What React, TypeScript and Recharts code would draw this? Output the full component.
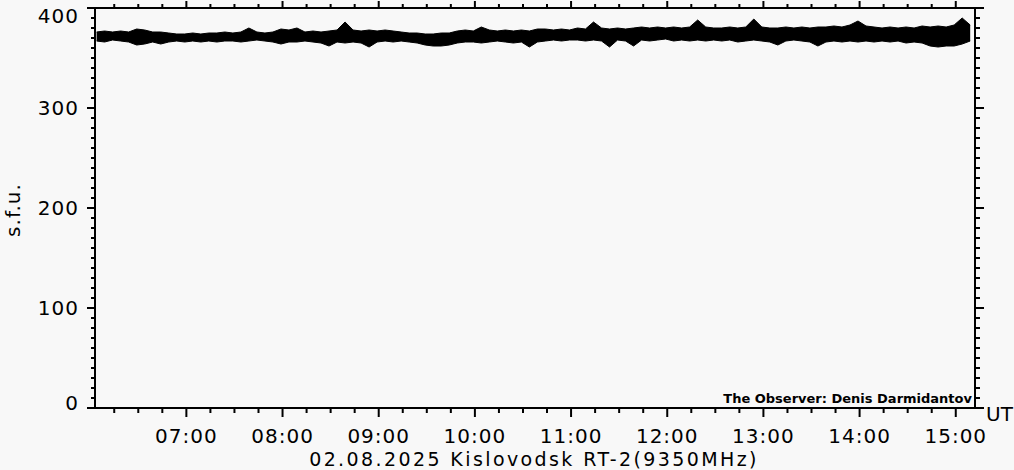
import { Area, ComposedChart, XAxis, YAxis } from "recharts";

// minutes after 00:00 UT of the first sample, samples every 5 min
const startMinute = 364;
const stepMinutes = 5;

// upper / lower edge of the flux band (s.f.u.)
const fluxHigh = [
  376, 377, 376, 377, 376, 379, 378, 376, 376, 375,
  374, 374, 375, 374, 375, 375, 376, 375, 376, 380,
  376, 375, 376, 379, 378, 380, 376, 377, 376, 377,
  378, 386, 378, 377, 378, 377, 378, 377, 376, 375,
  375, 374, 374, 375, 375, 377, 378, 377, 381, 378,
  377, 378, 377, 378, 377, 379, 379, 378, 379, 378,
  380, 379, 386, 380, 379, 380, 379, 380, 381, 380,
  381, 380, 381, 380, 381, 388, 381, 380, 380, 381,
  380, 381, 389, 381, 380, 380, 381, 380, 381, 380,
  381, 381, 382, 381, 383, 387, 382, 381, 380, 381,
  380, 381, 380, 382, 381, 382, 381, 383, 390, 383,
];
const fluxLow = [
  367, 366, 368, 367, 366, 363, 364, 366, 364, 366,
  367, 366, 367, 366, 367, 366, 367, 367, 366, 367,
  368, 367, 366, 364, 366, 366, 367, 366, 365, 362,
  366, 365, 366, 365, 361, 366, 367, 366, 367, 366,
  365, 363, 362, 362, 363, 365, 366, 366, 365, 366,
  367, 366, 365, 366, 361, 366, 367, 368, 367, 368,
  368, 367, 368, 367, 361, 368, 367, 362, 368, 367,
  368, 369, 367, 368, 367, 368, 367, 368, 367, 368,
  366, 367, 368, 367, 366, 363, 367, 368, 367, 366,
  362, 366, 367, 366, 367, 366, 367, 366, 367, 366,
  367, 365, 366, 365, 362, 361, 362, 362, 364, 367,
];

const timeTicks = [
  375, 390, 405, 420, 435, 450, 465, 480, 495, 510, 525, 540, 555, 570, 585,
  600, 615, 630, 645, 660, 675, 690, 705, 720, 735, 750, 765, 780, 795, 810,
  825, 840, 855, 870, 885, 900,
];
const fluxTicks = Array.from({ length: 41 }, (_, i) => i * 10);

const rows = fluxHigh.map((hi, i) => ({
  t: startMinute + i * stepMinutes,
  range: [fluxLow[i], hi],
}));

const font = "'DejaVu Sans', sans-serif";
const hhmm = (m: number) =>
  `${String(Math.floor(m / 60)).padStart(2, "0")}:${String(m % 60).padStart(2, "0")}`;

const BottomTick = (props: any) => {
  const { x, y, payload } = props;
  const major = payload.value % 60 === 0;
  return (
    <g>
      <line x1={x} x2={x} y1={y} y2={y + (major ? 9 : 5)} stroke="#000" strokeWidth={2} />
      {major && (
        <text x={x} y={y + 35} textAnchor="middle" fontFamily={font} fontSize={20} letterSpacing={1} fill="#000">
          {hhmm(payload.value)}
        </text>
      )}
    </g>
  );
};

const TopTick = (props: any) => {
  const { x, y, payload } = props;
  const major = payload.value % 60 === 0;
  return <line x1={x} x2={x} y1={y} y2={y - (major ? 7 : 4)} stroke="#000" strokeWidth={2} />;
};

const LeftTick = (props: any) => {
  const { x, y, payload } = props;
  const v = payload.value;
  const major = v % 100 === 0;
  const base = v === 400 ? 23 : v === 0 ? 410 : y + 7;
  return (
    <g>
      <line x1={x - (major ? 8 : 4)} x2={x} y1={y} y2={y} stroke="#000" strokeWidth={2} />
      {major && (
        <text x={x - 16} y={base} textAnchor="end" fontFamily={font} fontSize={20} letterSpacing={1} fill="#000">
          {v}
        </text>
      )}
    </g>
  );
};

const RightTick = (props: any) => {
  const { x, y, payload } = props;
  const major = payload.value % 100 === 0;
  return <line x1={x} x2={x + (major ? 9 : 5)} y1={y} y2={y} stroke="#000" strokeWidth={2} />;
};

const axisLine = { stroke: "#000", strokeWidth: 2 };

export default function App() {
  return (
    <div
      style={{
        position: "absolute",
        left: 0,
        top: 0,
        width: 1014,
        height: 470,
        background: "#f8f8f8",
        overflow: "hidden",
      }}
    >
      <ComposedChart width={1014} height={470} data={rows} margin={{ top: 0, right: 0, left: 0, bottom: 0 }}>
        <XAxis
          xAxisId="b"
          dataKey="t"
          type="number"
          domain={[363, 912]}
          allowDataOverflow
          ticks={timeTicks}
          interval={0}
          height={62}
          tickSize={0}
          tickMargin={0}
          tickLine={false}
          axisLine={axisLine}
          tick={<BottomTick />}
        />
        <XAxis
          xAxisId="t"
          orientation="top"
          dataKey="t"
          type="number"
          domain={[363, 912]}
          allowDataOverflow
          ticks={timeTicks}
          interval={0}
          height={8}
          tickSize={0}
          tickMargin={0}
          tickLine={false}
          axisLine={axisLine}
          tick={<TopTick />}
        />
        <YAxis
          yAxisId="l"
          type="number"
          domain={[0, 400]}
          allowDataOverflow
          ticks={fluxTicks}
          interval={0}
          width={95}
          tickSize={0}
          tickMargin={0}
          tickLine={false}
          axisLine={axisLine}
          tick={<LeftTick />}
        />
        <YAxis
          yAxisId="r"
          orientation="right"
          type="number"
          domain={[0, 400]}
          allowDataOverflow
          ticks={fluxTicks}
          interval={0}
          width={39}
          tickSize={0}
          tickMargin={0}
          tickLine={false}
          axisLine={axisLine}
          tick={<RightTick />}
        />
        <Area
          xAxisId="b"
          yAxisId="l"
          dataKey="range"
          type="linear"
          stroke="#000"
          strokeWidth={1}
          fill="#000"
          fillOpacity={1}
          dot={false}
          activeDot={false}
          isAnimationActive={false}
        />
      </ComposedChart>
      <svg
        width={1014}
        height={470}
        style={{ position: "absolute", left: 0, top: 0, pointerEvents: "none" }}
      >
        <text
          x={20}
          y={210}
          transform="rotate(-90 20 210)"
          textAnchor="middle"
          fontFamily={font}
          fontSize={20}
          letterSpacing={1}
          fill="#000"
        >
          s.f.u.
        </text>
        <text x={986} y={421} fontFamily={font} fontSize={20} fill="#000">
          UT
        </text>
        <text x={972} y={403} textAnchor="end" fontFamily={font} fontSize={13} fontWeight="bold" fill="#000">
          The Observer: Denis Darmidantov
        </text>
        <text x={534} y={466} textAnchor="middle" fontFamily={font} fontSize={19} letterSpacing={2.4} fill="#000">
          02.08.2025 Kislovodsk RT-2(9350MHz)
        </text>
      </svg>
    </div>
  );
}
